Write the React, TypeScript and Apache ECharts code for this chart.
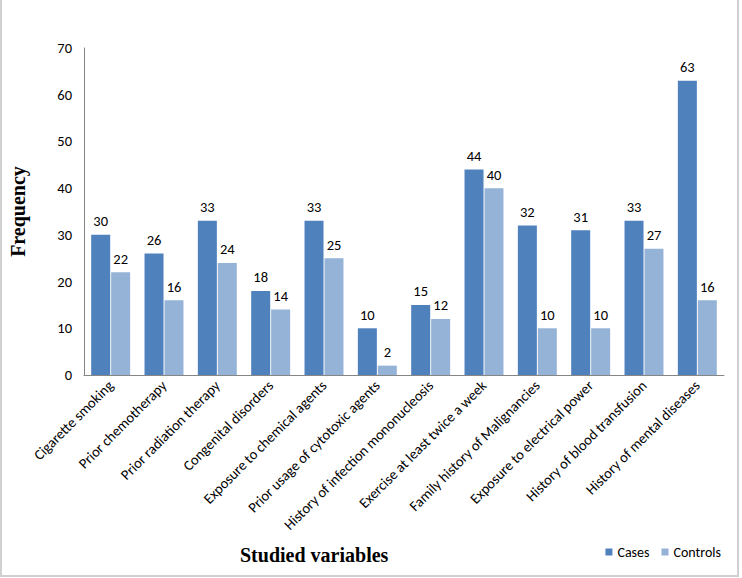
import React, { useEffect, useRef } from "react";
import * as echarts from "echarts";

const categories = [
  "Cigarette smoking",
  "Prior chemotherapy",
  "Prior radiation therapy",
  "Congenital disorders",
  "Exposure to chemical agents",
  "Prior usage of cytotoxic agents",
  "History of infection mononucleosis",
  "Exercise at least twice a week",
  "Family history of Malignancies",
  "Exposure to electrical power",
  "History of blood transfusion",
  "History of mental diseases",
];
const cases = [30, 26, 33, 18, 33, 10, 15, 44, 32, 31, 33, 63];
const controls = [22, 16, 24, 14, 25, 2, 12, 40, 10, 10, 27, 16];
const seriesNames = ["Cases", "Controls"];
const yTitle = "Frequency";
const xTitle = "Studied variables";

const labelFont = "Carlito, Lato, 'Open Sans', sans-serif";
const titleFont = "'Liberation Serif', 'DejaVu Serif', serif";

export default function App() {
  const ref = useRef<HTMLDivElement>(null);
  useEffect(() => {
    document.body.style.margin = "0";
    const chart = echarts.init(ref.current!, null, { renderer: "svg" });
    chart.setOption({
      animation: false,
      backgroundColor: "#ffffff",
      grid: { left: 83, right: 18, top: 48, bottom: 203, containLabel: false },
      legend: {
        data: seriesNames,
        right: 16,
        bottom: 14,
        icon: "rect",
        itemWidth: 7,
        itemHeight: 7,
        itemGap: 12,
        textStyle: { fontFamily: labelFont, fontSize: 14, color: "#000" },
      },
      xAxis: {
        type: "category",
        data: categories,
        axisLine: { show: true, lineStyle: { color: "#868686", width: 1 } },
        axisTick: { show: false },
        axisLabel: {
          rotate: 45,
          interval: 0,
          fontFamily: labelFont,
          fontSize: 14.5,
          color: "#000",
          margin: 8,
        },
      },
      yAxis: {
        type: "value",
        min: 0,
        max: 70,
        interval: 10,
        name: yTitle,
        nameLocation: "middle",
        nameGap: 56,
        nameTextStyle: {
          fontFamily: titleFont,
          fontWeight: "bold",
          fontSize: 20,
          color: "#000",
        },
        axisLine: { show: true, lineStyle: { color: "#868686", width: 1 } },
        axisTick: { show: false },
        splitLine: { show: false },
        axisLabel: { fontFamily: labelFont, fontSize: 14.5, color: "#000", margin: 12 },
      },
      series: [
        {
          name: seriesNames[0],
          type: "bar",
          data: cases,
          barWidth: 19,
          barGap: "5%",
          itemStyle: { color: "#4F81BD" },
          label: {
            show: true,
            position: "top",
            distance: 6,
            fontFamily: labelFont,
            fontSize: 14.5,
            color: "#000",
          },
        },
        {
          name: seriesNames[1],
          type: "bar",
          data: controls,
          barWidth: 19,
          barGap: "5%",
          itemStyle: { color: "#95B3D7" },
          label: {
            show: true,
            position: "top",
            distance: 6,
            fontFamily: labelFont,
            fontSize: 14.5,
            color: "#000",
          },
        },
      ],
      graphic: [
        {
          type: "text",
          left: 240,
          top: 545,
          style: {
            text: xTitle,
            fontFamily: titleFont,
            fontWeight: "bold",
            fontSize: 20,
            fill: "#000",
          },
        },
        {
          type: "polyline",
          shape: { points: [[1, -5], [1, 576], [738, 576], [738, -5]] },
          style: { stroke: "#d0d0d0", lineWidth: 2, fill: "none" },
          silent: true,
        },
      ],
    });
    return () => chart.dispose();
  }, []);
  return <div ref={ref} style={{ width: 742, height: 578 }} />;
}
